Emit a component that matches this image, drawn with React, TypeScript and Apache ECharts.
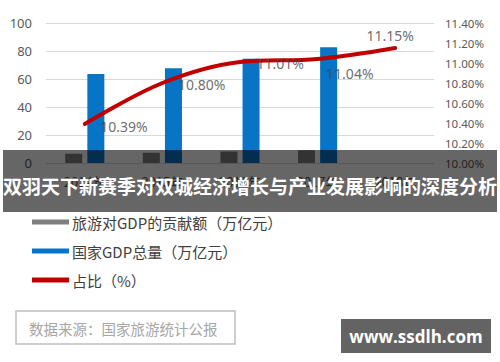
import React, { useEffect, useRef } from "react";
import * as echarts from "echarts";

const categories = ["2014年", "2015年", "2016年", "2017年", "2018年"];
const tourismGdp = [6.6, 7.3, 8.2, 9.1, null];
const nationalGdp = [63.6, 67.7, 74.4, 82.7, null];
const shareRate = [10.39, 10.8, 11.01, 11.04, 11.15];
const leftTicks = { min: 0, max: 100, interval: 20 };
const rightTicks = { min: 10.0, max: 11.4, interval: 0.2 };

const seriesNames = ["旅游对GDP的贡献额（万亿元）", "国家GDP总量（万亿元）", "占比（%）"];
const titleText = "双羽天下新赛季对双城经济增长与产业发展影响的深度分析";
const sourceText = "数据来源：国家旅游统计公报";
const siteText = "www.ssdlh.com";

const NUM_FONT = "Noto Sans";
const CJK_FONT = "Noto Sans CJK SC";

export default function App() {
  const ref = useRef<HTMLDivElement>(null);

  useEffect(() => {
    if (!ref.current) return;
    const chart = echarts.init(ref.current, null, { renderer: "svg" });

    const labelLayouts: any[] = [
      { position: "right", distance: 15, offset: [0, 2] },
      { position: "right", distance: 15, offset: [0, 1] },
      { position: "right", distance: 16, offset: [0, 1] },
      { position: "right", distance: 8, offset: [0, 14] },
      { position: "top", distance: 5, offset: [-5, 0] },
    ];

    const labelData = shareRate.map((v, i) => ({
      value: [i, v],
      label: {
        position: labelLayouts[i].position,
        distance: labelLayouts[i].distance,
        offset: labelLayouts[i].offset,
      },
    }));

    chart.setOption({
      animation: false,
      backgroundColor: "#ffffff",
      textStyle: { fontFamily: CJK_FONT },
      grid: { left: 46, right: 66, top: 23, bottom: 199, containLabel: false },
      legend: {
        orient: "vertical",
        left: 32,
        top: 212,
        padding: 0,
        icon: "rect",
        itemWidth: 37,
        itemHeight: 5,
        itemGap: 9,
        selectedMode: false,
        data: seriesNames,
        textStyle: {
          fontFamily: CJK_FONT,
          fontSize: 15,
          lineHeight: 20,
          color: "#404040",
          padding: [0, 0, 0, -2],
        },
      },
      xAxis: {
        type: "category",
        data: categories,
        axisTick: { show: false },
        axisLine: { lineStyle: { color: "#d9d9d9", width: 1 } },
        axisLabel: { color: "#595959", fontSize: 13, margin: 12, fontFamily: CJK_FONT },
      },
      yAxis: [
        {
          type: "value",
          min: leftTicks.min,
          max: leftTicks.max,
          interval: leftTicks.interval,
          axisLine: { show: false },
          axisTick: { show: false },
          splitLine: { lineStyle: { color: "#d9d9d9", width: 1 } },
          axisLabel: { color: "#595959", fontSize: 13, margin: 14, fontFamily: NUM_FONT },
        },
        {
          type: "value",
          min: rightTicks.min,
          max: rightTicks.max,
          interval: rightTicks.interval,
          axisLine: { show: false },
          axisTick: { show: false },
          splitLine: { show: false },
          axisLabel: {
            color: "#595959",
            fontSize: 11.5,
            margin: 11,
            fontFamily: NUM_FONT,
            formatter: (v: number) => v.toFixed(2) + "%",
          },
        },
      ],
      series: [
        {
          name: seriesNames[0],
          type: "bar",
          yAxisIndex: 0,
          data: tourismGdp,
          barWidth: 17,
          barGap: "30%",
          itemStyle: { color: "#7f7f7f" },
          z: 1,
        },
        {
          name: seriesNames[1],
          type: "bar",
          yAxisIndex: 0,
          data: nationalGdp,
          barWidth: 17,
          itemStyle: { color: "#0874c6" },
          z: 1,
        },
        {
          name: seriesNames[2],
          type: "line",
          yAxisIndex: 1,
          data: shareRate,
          smooth: 0.35,
          symbol: "none",
          lineStyle: { color: "#c00000", width: 4, cap: "round" },
          itemStyle: { color: "#c00000" },
          z: 5,
        },
        {
          name: "labels",
          type: "scatter",
          yAxisIndex: 1,
          data: labelData,
          symbol: "circle",
          symbolSize: 1,
          itemStyle: { color: "rgba(0,0,0,0)" },
          silent: true,
          z: 20,
          label: {
            show: true,
            color: "#464646",
            fontSize: 14,
            fontFamily: NUM_FONT,
            textBorderWidth: 0,
            textBorderColor: "transparent",
            formatter: (p: any) => Number(p.value[1]).toFixed(2) + "%",
          },
        },
      ],
      graphic: [
        {
          type: "group",
          z: 100,
          children: [
            {
              type: "rect",
              shape: { x: 3, y: 150, width: 494, height: 62 },
              style: { fill: "rgba(0,0,0,0.6)" },
              z: 100,
            },
            {
              type: "text",
              x: 250,
              y: 185,
              z: 101,
              style: {
                text: titleText,
                fill: "#ffffff",
                fontSize: 19,
                fontWeight: "bold",
                fontFamily: CJK_FONT,
                align: "center",
                verticalAlign: "middle",
              },
            },
            {
              type: "rect",
              shape: { x: 16, y: 311, width: 219, height: 33 },
              style: { fill: "#ffffff", stroke: "#bfbfbf", lineWidth: 1.5 },
              z: 100,
            },
            {
              type: "text",
              x: 29,
              y: 328,
              z: 101,
              style: {
                text: sourceText,
                fill: "#a6a6a6",
                fontSize: 14.5,
                fontFamily: CJK_FONT,
                align: "left",
                verticalAlign: "middle",
              },
            },
            {
              type: "rect",
              shape: { x: 341, y: 319, width: 150, height: 34 },
              style: { fill: "#636363" },
              z: 100,
            },
            {
              type: "text",
              x: 416,
              y: 336,
              z: 101,
              style: {
                text: siteText,
                fill: "#ffffff",
                fontSize: 17,
                fontWeight: "bold",
                fontFamily: "Open Sans",
                align: "center",
                verticalAlign: "middle",
              },
            },
          ],
        },
      ],
    });

    return () => chart.dispose();
  }, []);

  return <div ref={ref} style={{ width: 500, height: 362, position: "absolute", left: 0, top: 0 }} />;
}
